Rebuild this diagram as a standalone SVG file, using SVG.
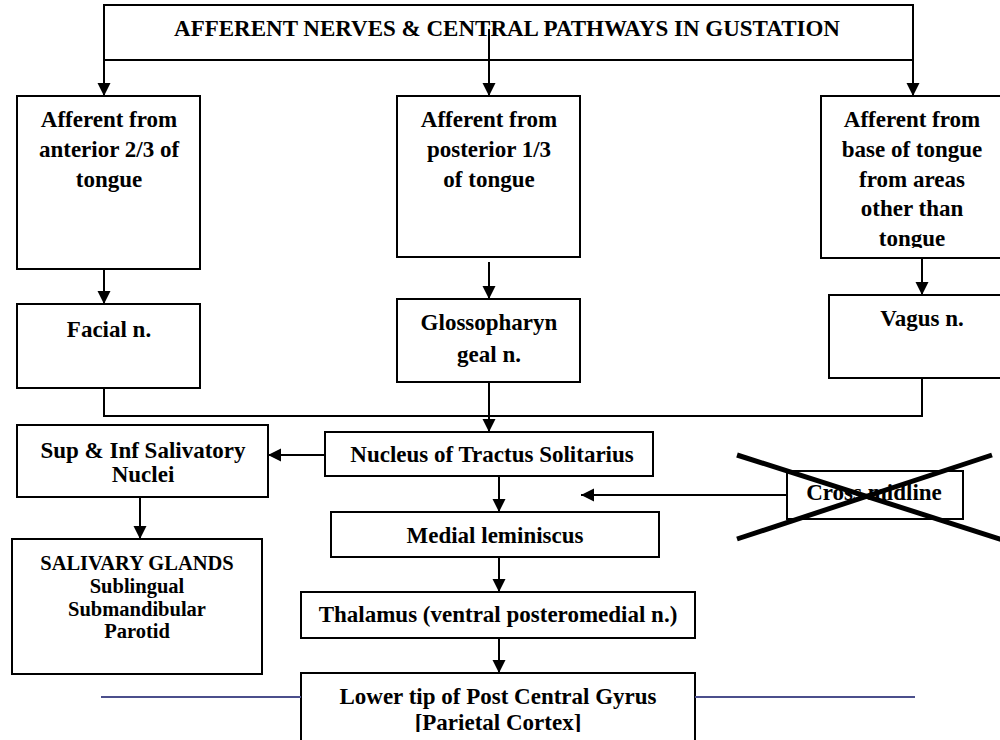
<svg xmlns="http://www.w3.org/2000/svg" width="1000" height="740" viewBox="0 0 1000 740">
<style>
.box{fill:#fff;stroke:#000;stroke-width:2}
.t{font-family:"Liberation Serif","Times New Roman",serif;font-weight:bold;font-size:23px;fill:#000;text-anchor:middle}
.s{font-size:20.5px}
.c{fill:none;stroke:#000;stroke-width:2}
.blue{stroke:#4b4f8c;stroke-width:2}
.x{stroke:#000;stroke-width:5}
</style>
<defs>
<marker id="ah" markerUnits="userSpaceOnUse" markerWidth="14" markerHeight="14" refX="13" refY="6.5" orient="auto">
<path d="M0,0 L13,6.5 L0,13 Z" fill="#000"/>
</marker>
<clipPath id="clip3"><rect x="821" y="96" width="200" height="152"/></clipPath>
<clipPath id="clipL"><rect x="300" y="673" width="400" height="59"/></clipPath>
</defs>
<rect width="1000" height="740" fill="#fff"/>

<g id="title">
<rect class="box" x="104" y="5" width="809" height="55"/>
<text class="t" x="507" y="36">AFFERENT NERVES &amp; CENTRAL PATHWAYS IN GUSTATION</text>
</g>

<g id="anterior">
<rect class="box" x="17" y="96" width="183" height="173"/>
<text class="t" x="109" y="127">Afferent from</text>
<text class="t" x="109" y="157">anterior 2/3 of</text>
<text class="t" x="109" y="187">tongue</text>
</g>

<g id="posterior">
<rect class="box" x="397" y="96" width="183" height="161"/>
<text class="t" x="489" y="127">Afferent from</text>
<text class="t" x="489" y="157">posterior 1/3</text>
<text class="t" x="489" y="187">of tongue</text>
</g>

<g id="base">
<rect class="box" x="821" y="96" width="200" height="162"/>
<g clip-path="url(#clip3)">
<text class="t" x="912" y="127">Afferent from</text>
<text class="t" x="912" y="157">base of tongue</text>
<text class="t" x="912" y="187">from areas</text>
<text class="t" x="912" y="216">other than</text>
<text class="t" x="912" y="246">tongue</text>
</g>
</g>

<g id="facial">
<rect class="box" x="17" y="304" width="183" height="84"/>
<text class="t" x="109" y="337">Facial n.</text>
</g>

<g id="glosso">
<rect class="box" x="397" y="299" width="183" height="83"/>
<text class="t" x="489" y="330">Glossopharyn</text>
<text class="t" x="489" y="362">geal n.</text>
</g>

<g id="vagus">
<rect class="box" x="829" y="295" width="200" height="83"/>
<text class="t" x="922" y="326">Vagus n.</text>
</g>

<g id="nts">
<rect class="box" x="325" y="432" width="328" height="44"/>
<text class="t" x="492" y="462">Nucleus of Tractus Solitarius</text>
</g>

<g id="salnuclei">
<rect class="box" x="17" y="425" width="251" height="72"/>
<text class="t" x="143" y="458">Sup &amp; Inf Salivatory</text>
<text class="t" x="143" y="482">Nuclei</text>
</g>

<g id="glands">
<rect class="box" x="12" y="539" width="250" height="135"/>
<text class="t s" x="137" y="570">SALIVARY GLANDS</text>
<text class="t s" x="137" y="593">Sublingual</text>
<text class="t s" x="137" y="616">Submandibular</text>
<text class="t s" x="137" y="638">Parotid</text>
</g>

<g id="medial">
<rect class="box" x="331" y="512" width="328" height="45"/>
<text class="t" x="495" y="543">Medial leminiscus</text>
</g>

<g id="thalamus">
<rect class="box" x="301" y="592" width="394" height="46"/>
<text class="t" x="498" y="622">Thalamus (ventral posteromedial n.)</text>
</g>

<g id="cortex">
<rect class="box" x="301" y="673" width="394" height="80"/>
<g clip-path="url(#clipL)">
<text class="t" x="498" y="704">Lower tip of Post Central Gyrus</text>
<text class="t" x="498" y="730">[Parietal Cortex]</text>
</g>
</g>

<g id="cross">
<rect class="box" x="787" y="471" width="176" height="48"/>
<text class="t" x="874" y="500">Cross midline</text>
<line class="x" x1="737" y1="455" x2="1003" y2="540"/>
<line class="x" x1="737" y1="539" x2="992" y2="455"/>
</g>

<g id="connectors">
<line class="c" x1="104" y1="60" x2="104" y2="96" marker-end="url(#ah)"/>
<line class="c" x1="489" y1="29" x2="489" y2="96" marker-end="url(#ah)"/>
<line class="c" x1="913" y1="60" x2="913" y2="96" marker-end="url(#ah)"/>
<line class="c" x1="104" y1="269" x2="104" y2="304" marker-end="url(#ah)"/>
<line class="c" x1="489" y1="262" x2="489" y2="299" marker-end="url(#ah)"/>
<line class="c" x1="922" y1="258" x2="922" y2="295" marker-end="url(#ah)"/>
<polyline class="c" points="104,388 104,416 922,416 922,378"/>
<line class="c" x1="489" y1="382" x2="489" y2="432" marker-end="url(#ah)"/>
<line class="c" x1="325" y1="455" x2="268" y2="455" marker-end="url(#ah)"/>
<line class="c" x1="140" y1="497" x2="140" y2="539" marker-end="url(#ah)"/>
<line class="c" x1="499" y1="476" x2="499" y2="512" marker-end="url(#ah)"/>
<line class="c" x1="499" y1="557" x2="499" y2="592" marker-end="url(#ah)"/>
<line class="c" x1="499" y1="638" x2="499" y2="673" marker-end="url(#ah)"/>
<line class="c" x1="787" y1="495" x2="581" y2="495" marker-end="url(#ah)"/>
<line class="blue" x1="101" y1="697" x2="301" y2="697"/>
<line class="blue" x1="695" y1="697" x2="915" y2="697"/>
</g>
</svg>
